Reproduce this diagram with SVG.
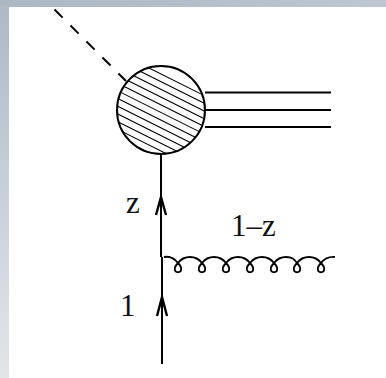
<svg xmlns="http://www.w3.org/2000/svg" width="386" height="378" viewBox="0 0 386 378">
<style>
.l{fill:none;stroke:#000;stroke-width:2}
.a{fill:none;stroke:#000;stroke-width:2.400}
.g{fill:none;stroke:#000;stroke-width:1.800}
.h{fill:none;stroke:#000;stroke-width:1.100}
text{font-family:"Liberation Serif","Times New Roman",serif;font-size:31px;fill:#111}
</style>
<defs>
<linearGradient id="gl" x1="0" y1="0" x2="0" y2="1"><stop offset="0" stop-color="#aeb9c5"/><stop offset="1" stop-color="#e2e6eb"/></linearGradient>
<linearGradient id="gt" x1="0" y1="0" x2="1" y2="0"><stop offset="0" stop-color="#abb7c3"/><stop offset="1" stop-color="#bec7d2"/></linearGradient>
<clipPath id="c"><circle cx="161" cy="110" r="44"/></clipPath>
</defs>
<rect width="386" height="378" fill="#fff"/>
<rect width="9" height="378" fill="url(#gl)"/>
<rect width="386" height="7" fill="url(#gt)"/>
<g id="connectors">
<path class="l" stroke-dasharray="11.500 11.100" d="M54.500 9.500L126 81"/>
<path class="l" d="M205 92.500H331M205 110H331M205 127H331"/>
<path class="l" d="M161 154V257M162 257V364"/>
<path class="a" d="M156 215L161 197L166 215M157 316L162 297L167 316"/>
<path class="g" d="M164 257C170 256 175 259 178 263C180 265 181.200 266.500 181.200 268.500C181.200 273.500 174.800 273.500 174.800 268.500C174.800 266.500 176 265 178 263C181 259 184 257 190 257C196 257 199 259 202 263C204 265 205.200 266.500 205.200 268.500C205.200 273.500 198.800 273.500 198.800 268.500C198.800 266.500 200 265 202 263C205 259 208 257 214 257C220 257 223 259 226 263C228 265 229.200 266.500 229.200 268.500C229.200 273.500 222.800 273.500 222.800 268.500C222.800 266.500 224 265 226 263C229 259 232 257 238 257C244 257 247 259 250 263C252 265 253.200 266.500 253.200 268.500C253.200 273.500 246.800 273.500 246.800 268.500C246.800 266.500 248 265 250 263C253 259 256 257 262 257C268 257 271 259 274 263C276 265 277.200 266.500 277.200 268.500C277.200 273.500 270.800 273.500 270.800 268.500C270.800 266.500 272 265 274 263C277 259 280 257 286 257C292 257 294 259 297 263C299 265 300.200 266.500 300.200 268.500C300.200 273.500 293.800 273.500 293.800 268.500C293.800 266.500 295 265 297 263C300 259 303 257 309 257C315 257 318 259 321 263C323 265 324.200 266.500 324.200 268.500C324.200 273.500 317.800 273.500 317.800 268.500C317.800 266.500 319 265 321 263C324 259 328 256.500 335 257"/>
</g>
<g id="blob">
<circle cx="161" cy="110" r="44" fill="#fff"/>
<path class="h" clip-path="url(#c)" d="M100 43.500L220 103.500M100 51.200L220 111.200M100 58.900L220 118.900M100 66.600L220 126.600M100 74.300L220 134.300M100 82L220 142M100 89.700L220 149.700M100 97.400L220 157.400M100 105.100L220 165.100M100 112.800L220 172.800M100 120.500L220 180.500M100 128.200L220 188.200"/>
<circle class="l" cx="161" cy="110" r="44"/>
</g>
<g id="labels">
<text x="126" y="213">z</text>
<text x="120" y="316">1</text>
<text x="231" y="236">1–z</text>
</g>
</svg>
